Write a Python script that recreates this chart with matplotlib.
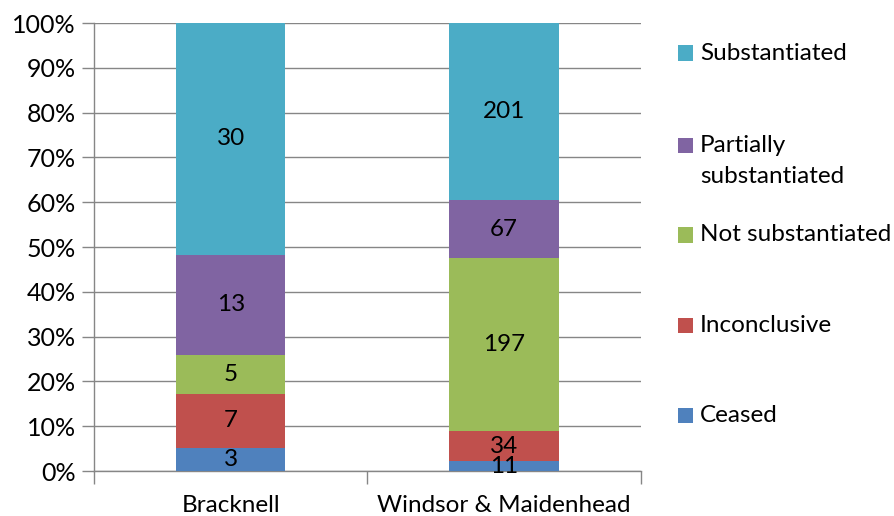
import numpy as np
import matplotlib.pyplot as plt
from matplotlib.patches import Rectangle
from matplotlib.ticker import PercentFormatter

# data
areas = ["Bracknell", "Windsor & Maidenhead"]
outcomes = ["Ceased", "Inconclusive", "Not substantiated",
            "Partially\nsubstantiated", "Substantiated"]
ceased = [3, 11]
inconclusive = [7, 34]
not_subst = [5, 197]
partial = [13, 67]
subst = [30, 201]

colours = ["#4F81BD", "#C0504D", "#9BBB59", "#8064A2", "#4BACC6"]

plt.rcParams["font.family"] = ["Lato", "DejaVu Sans"]
fs = 17.5

counts = np.array([ceased, inconclusive, not_subst, partial, subst], dtype=float)
shares = counts / counts.sum(axis=0) * 100

fig = plt.figure(figsize=(8.95, 5.16), dpi=100)
ax = fig.add_axes([0.105, 0.0872, 0.611, 0.868])

x = np.arange(len(areas))
bottom = np.zeros(len(areas))
for i in range(len(outcomes)):
    ax.bar(x, shares[i], 0.4, bottom=bottom, color=colours[i], zorder=3)
    for j in range(len(areas)):
        ax.text(x[j], bottom[j] + shares[i, j] / 2, f"{int(counts[i, j])}",
                ha="center", va="center", fontsize=fs, color="black", zorder=4)
    bottom += shares[i]

ax.set_xlim(-0.5, 1.5)
ax.set_ylim(0, 100)
ax.set_yticks(np.arange(0, 101, 10))
ax.yaxis.set_major_formatter(PercentFormatter(decimals=0))
ax.grid(axis="y", color="#868686", linewidth=1, zorder=0)

# category boundaries carry the tick marks, labels sit in between
ax.set_xticks([-0.5, 0.5, 1.5])
ax.set_xticklabels([])
ax.set_xticks(x, minor=True)
ax.set_xticklabels(areas, minor=True)
ax.tick_params(axis="x", which="major", length=9, color="#868686", width=1)
ax.tick_params(axis="x", which="minor", length=0, pad=17, labelsize=fs)
ax.tick_params(axis="y", length=9, color="#868686", width=1, labelsize=18, pad=4)

for s in ["top", "right"]:
    ax.spines[s].set_visible(False)
for s in ["left", "bottom"]:
    ax.spines[s].set_color("#868686")
    ax.spines[s].set_linewidth(1)

# legend drawn by hand, top entry first (Excel style spacing)
W, H = 895, 516
leg_y = [53, 145, 235, 325, 415]  # centre of first text line, px from top
for k, i in enumerate(range(len(outcomes) - 1, -1, -1)):
    yc = leg_y[k]
    fig.patches.append(Rectangle((678 / W, 1 - (yc + 7.5) / H), 15 / W, 15 / H,
                                 transform=fig.transFigure, facecolor=colours[i],
                                 edgecolor="none"))
    lines = outcomes[i].split("\n")
    for n, line in enumerate(lines):
        fig.text(700 / W, 1 - (yc + n * 32) / H, line, fontsize=fs,
                 ha="left", va="center")

fig.savefig("out.png", dpi=100)
